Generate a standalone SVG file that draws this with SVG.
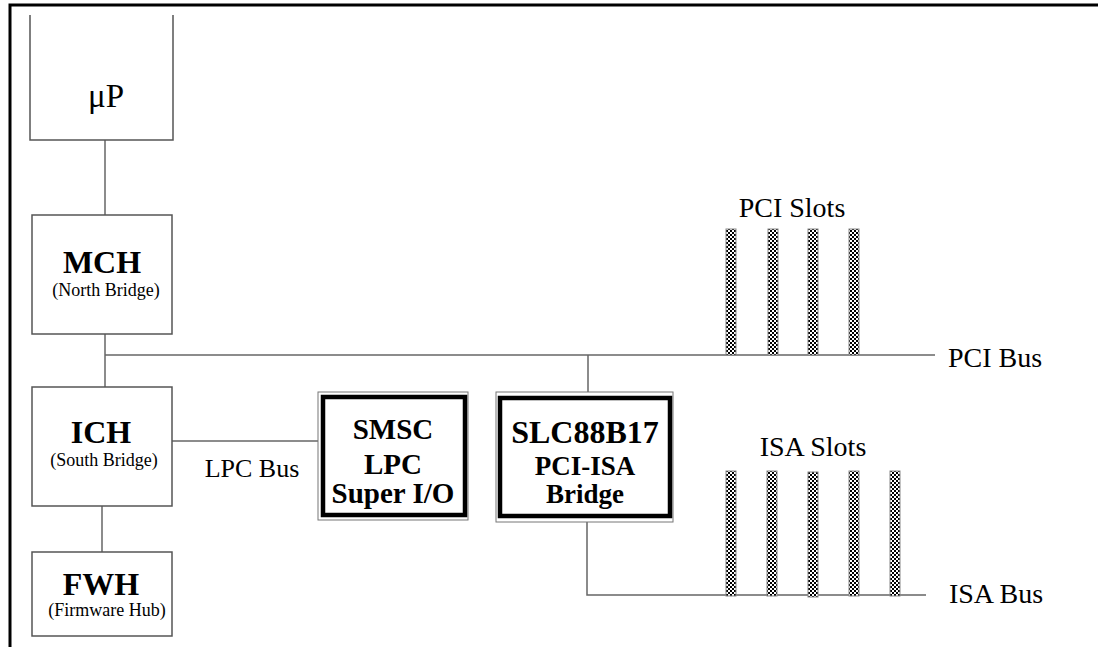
<svg xmlns="http://www.w3.org/2000/svg" width="1098" height="647" viewBox="0 0 1098 647">
<style>
.box{fill:#fff;stroke:#555;stroke-width:1.5}
.obox{fill:#fff;stroke:#777;stroke-width:1}
.ibox{fill:none;stroke:#000;stroke-width:4.5}
.conn{fill:none;stroke:#666;stroke-width:1.5}
.slot{fill:url(#chk);stroke:#888;stroke-width:1}
.t{font-family:"Liberation Serif","Times New Roman",serif;fill:#000;text-anchor:middle}
.b{font-weight:bold}
.frame{fill:none;stroke:#000;stroke-width:3}
</style>
<defs>
<pattern id="chk" width="4" height="4" patternUnits="userSpaceOnUse">
<rect width="4" height="4" fill="#fff"/>
<rect width="2" height="2" fill="#000"/>
<rect x="2" y="2" width="2" height="2" fill="#000"/>
</pattern>
</defs>
<rect width="1098" height="647" fill="#fff"/>
<path class="frame" d="M10,647 V5 H1098"/>
<g id="connectors">
<line class="conn" x1="105" y1="140" x2="105" y2="215"/>
<line class="conn" x1="105" y1="334" x2="105" y2="387"/>
<line class="conn" x1="105" y1="355" x2="935" y2="355"/>
<line class="conn" x1="102" y1="506" x2="102" y2="552"/>
<line class="conn" x1="172" y1="441" x2="318" y2="441"/>
<line class="conn" x1="588" y1="355" x2="588" y2="392"/>
<path class="conn" d="M587,522 V595 H926"/>
</g>
<g id="up">
<path class="box" d="M30,15 V140 H173 V15"/>
<text class="t" x="106" y="107" font-size="33">μP</text>
</g>
<g id="mch">
<rect class="box" x="32" y="215" width="140" height="119"/>
<text class="t b" x="102" y="273" font-size="32">MCH</text>
<text class="t" x="106" y="296" font-size="18">(North Bridge)</text>
</g>
<g id="ich">
<rect class="box" x="32" y="387" width="140" height="119"/>
<text class="t b" x="101" y="443" font-size="32">ICH</text>
<text class="t" x="104" y="466" font-size="18">(South Bridge)</text>
</g>
<g id="fwh">
<rect class="box" x="32" y="552" width="140" height="84"/>
<text class="t b" x="101" y="595" font-size="32">FWH</text>
<text class="t" x="107" y="616" font-size="18">(Firmware Hub)</text>
</g>
<g id="lpc-label">
<text class="t" x="252" y="477" font-size="26">LPC Bus</text>
</g>
<g id="smsc">
<rect class="obox" x="318" y="392" width="150" height="128"/>
<rect class="ibox" x="323" y="397" width="142" height="118"/>
<text class="t b" x="393" y="439" font-size="29">SMSC</text>
<text class="t b" x="393" y="474" font-size="29">LPC</text>
<text class="t b" x="393" y="503" font-size="29">Super I/O</text>
</g>
<g id="slc">
<rect class="obox" x="496" y="392" width="177" height="130"/>
<rect class="ibox" x="500" y="398" width="170" height="118"/>
<text class="t b" x="585" y="443" font-size="32">SLC88B17</text>
<text class="t b" x="585" y="475" font-size="27">PCI-ISA</text>
<text class="t b" x="585" y="503" font-size="27">Bridge</text>
</g>
<g id="pci-slots">
<text class="t" x="792" y="217" font-size="28">PCI Slots</text>
<rect class="slot" x="726" y="229" width="10" height="126"/>
<rect class="slot" x="768" y="229" width="10" height="126"/>
<rect class="slot" x="808" y="229" width="10" height="126"/>
<rect class="slot" x="849" y="229" width="10" height="126"/>
</g>
<g id="pci-bus">
<text class="t" x="995" y="367" font-size="28">PCI Bus</text>
</g>
<g id="isa-slots">
<text class="t" x="813" y="456" font-size="28">ISA Slots</text>
<rect class="slot" x="726" y="471" width="10" height="125"/>
<rect class="slot" x="767" y="471" width="10" height="125"/>
<rect class="slot" x="808" y="472" width="10" height="125"/>
<rect class="slot" x="849" y="471" width="10" height="125"/>
<rect class="slot" x="890" y="471" width="10" height="125"/>
</g>
<g id="isa-bus">
<text class="t" x="996" y="603" font-size="28">ISA Bus</text>
</g>
</svg>
